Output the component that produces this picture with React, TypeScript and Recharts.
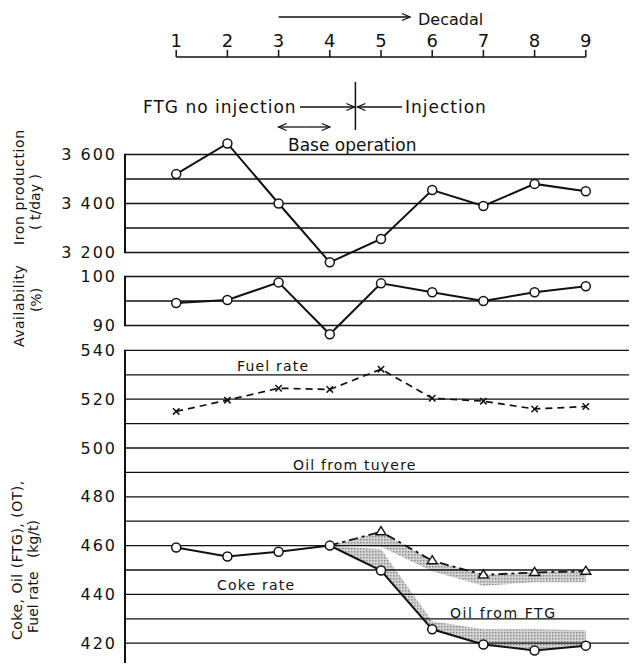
import { Area, ComposedChart, Line, LineChart, ReferenceLine, XAxis, YAxis } from 'recharts'

// decade index shared by every panel
const decades = [1, 2, 3, 4, 5, 6, 7, 8, 9]

// iron production, t/day
const ironProduction = [3520, 3645, 3400, 3160, 3255, 3455, 3390, 3480, 3450]
// furnace availability, %
const availability = [94.6, 95.2, 98.8, 88.2, 98.6, 96.8, 95.0, 96.8, 98.0]
// kg/t series
const fuelRate = [515, 519.6, 524.5, 524, 532.3, 520.4, 519.2, 516, 517]
const cokeRate = [459.2, 455.5, 457.5, 460, 449.8, 425.7, 419.5, 417, 419]
const cokePlusOilFtg = [null, null, null, 460, 458.5, 429, 425.7, 425.7, 425.3]
const totalWithTuyere = [null, null, null, 460, 465.7, 453.8, 448, 449, 449.5]
const tuyereBandFloor = [null, null, null, 460, 459.5, 449.5, 443.5, 445, 445]

// axis ticks and ruled lines
const ironTicks = [3200, 3400, 3600]
const ironRules = [3200, 3300, 3400, 3500, 3600]
const availTicks = [90, 100]
const availRules = [90, 95, 100]
const rateTicks = [420, 440, 460, 480, 500, 520, 540]
const rateRules = [410, 420, 430, 440, 450, 460, 470, 480, 490, 500, 510, 520, 530, 540]

type Row = {
  decade: number
  iron: number
  avail: number
  fuel: number
  coke: number
  total: number | null
  ftgBand: [number, number] | null
  tuyereBand: [number, number] | null
}

const rows: Row[] = decades.map((decade, i) => {
  const top = cokePlusOilFtg[i]
  const total = totalWithTuyere[i]
  const floor = tuyereBandFloor[i]
  return {
    decade,
    iron: ironProduction[i],
    avail: availability[i],
    fuel: fuelRate[i],
    coke: cokeRate[i],
    total,
    ftgBand: top == null ? null : [cokeRate[i], top],
    tuyereBand: total == null || floor == null ? null : [floor, total],
  }
})

const W = 637
const H = 671
const PLOT_LEFT = 125
const UNIT = (W - PLOT_LEFT) / 10
const decadeX = (d: number) => PLOT_LEFT + d * UNIT
const INK = '#111'
const FONT = '"DejaVu Sans", sans-serif'

// stacked panels: page offset, height and value domain of each
type PanelBox = { top: number; height: number; domain: [number, number]; frame: [number, number] }
const ironBox: PanelBox = { top: 130, height: 147, domain: [3100, 3700], frame: [3200, 3600] }
const availBox: PanelBox = { top: 252, height: 98, domain: [85, 105], frame: [90, 100] }
const rateBox: PanelBox = { top: 326, height: 366, domain: [400, 550], frame: [410, 540] }

const pageY = (b: PanelBox, v: number) =>
  b.top + ((b.domain[1] - v) / (b.domain[1] - b.domain[0])) * b.height

const fmtThousands = (v: number) => `${Math.floor(v / 1000)} ${String(v % 1000).padStart(3, '0')}`

type DotProps = { cx?: number; cy?: number; index?: number; payload?: Row }

function CrossDot({ cx, cy, index }: DotProps) {
  if (cx == null || cy == null) return <g key={`x-${index}`} />
  const s = 3.2
  return (
    <path
      key={`x-${index}`}
      d={`M${cx - s},${cy - s}L${cx + s},${cy + s}M${cx - s},${cy + s}L${cx + s},${cy - s}`}
      stroke={INK}
      strokeWidth={1.5}
    />
  )
}

function TriangleDot({ cx, cy, index, payload }: DotProps) {
  // no triangle where the line starts on the coke-rate point
  if (cx == null || cy == null || payload == null || payload.total == null || payload.total === payload.coke) {
    return <g key={`t-${index}`} />
  }
  const r = 5
  return (
    <path
      key={`t-${index}`}
      d={`M${cx},${cy - r}L${cx + r},${cy + r * 0.6}L${cx - r},${cy + r * 0.6}Z`}
      fill="#fff"
      stroke={INK}
      strokeWidth={1.4}
    />
  )
}

const circleDot = { r: 4.5, fill: '#fff', stroke: INK, strokeWidth: 1.5 }
const tickStyle = { fontSize: 16, fill: INK, letterSpacing: 2 }
const ruleProps = { stroke: INK, strokeWidth: 1.3 }

const boxStyle = (b: { top: number; height: number }) => ({
  position: 'absolute' as const,
  left: 0,
  top: b.top,
  width: W,
  height: b.height,
})

function Arrow({ x1, x2, y }: { x1: number; x2: number; y: number }) {
  const dir = x2 > x1 ? 1 : -1
  return (
    <g stroke={INK} strokeWidth={1.3} fill="none">
      <line x1={x1} y1={y} x2={x2} y2={y} />
      <path d={`M${x2 - dir * 8},${y - 3.5}L${x2},${y}L${x2 - dir * 8},${y + 3.5}`} />
    </g>
  )
}

export default function App() {
  return (
    <div style={{ position: 'relative', width: W, height: H, margin: -8, overflow: 'hidden', background: '#fff', fontFamily: FONT }}>
      {/* decadal scale */}
      <div style={boxStyle({ top: 0, height: 70 })}>
        <LineChart width={W} height={70} data={rows} margin={{ top: 0, right: W - decadeX(9), bottom: 0, left: decadeX(1) }}>
          <XAxis
            dataKey="decade"
            type="number"
            domain={[1, 9]}
            ticks={decades}
            interval={0}
            orientation="top"
            height={57}
            tickSize={7}
            tickMargin={3}
            stroke={INK}
            strokeWidth={1.5}
            tick={{ fontSize: 18, fill: INK }}
          />
          <YAxis hide />
        </LineChart>
      </div>

      {/* iron production */}
      <div style={boxStyle(ironBox)}>
        <LineChart width={W} height={ironBox.height} data={rows} margin={{ top: 0, right: 0, bottom: 0, left: 0 }}>
          <XAxis dataKey="decade" type="number" domain={[0, 10]} hide />
          <YAxis
            domain={ironBox.domain}
            ticks={ironTicks}
            interval={0}
            width={PLOT_LEFT}
            axisLine={false}
            tickLine={false}
            tickSize={0}
            tickMargin={8}
            tick={tickStyle}
            tickFormatter={fmtThousands}
          />
          {ironRules.map((v) => (
            <ReferenceLine key={v} y={v} {...ruleProps} />
          ))}
          <Line dataKey="iron" stroke={INK} strokeWidth={2} dot={circleDot} activeDot={false} isAnimationActive={false} />
        </LineChart>
      </div>

      {/* availability */}
      <div style={boxStyle(availBox)}>
        <LineChart width={W} height={availBox.height} data={rows} margin={{ top: 0, right: 0, bottom: 0, left: 0 }}>
          <XAxis dataKey="decade" type="number" domain={[0, 10]} hide />
          <YAxis
            domain={availBox.domain}
            ticks={availTicks}
            interval={0}
            width={PLOT_LEFT}
            axisLine={false}
            tickLine={false}
            tickSize={0}
            tickMargin={8}
            tick={tickStyle}
          />
          {availRules.map((v) => (
            <ReferenceLine key={v} y={v} {...ruleProps} />
          ))}
          <Line dataKey="avail" stroke={INK} strokeWidth={2} dot={circleDot} activeDot={false} isAnimationActive={false} />
        </LineChart>
      </div>

      {/* coke, oil and fuel rates */}
      <div style={boxStyle(rateBox)}>
        <ComposedChart width={W} height={rateBox.height} data={rows} margin={{ top: 0, right: 0, bottom: 0, left: 0 }}>
          <defs>
            <pattern id="stipple" width="3" height="3" patternUnits="userSpaceOnUse">
              <rect width="3" height="3" fill="#b8b8b8" />
              <rect width="1.5" height="1.5" fill="#3a3a3a" />
            </pattern>
          </defs>
          <XAxis dataKey="decade" type="number" domain={[0, 10]} hide />
          <YAxis
            domain={rateBox.domain}
            ticks={rateTicks}
            interval={0}
            width={PLOT_LEFT}
            axisLine={false}
            tickLine={false}
            tickSize={0}
            tickMargin={8}
            tick={tickStyle}
          />
          {rateRules.map((v) => (
            <ReferenceLine key={v} y={v} stroke={INK} strokeWidth={v === 410 ? 2 : 1.3} />
          ))}
          <Area dataKey="tuyereBand" stroke="none" fill="url(#stipple)" isAnimationActive={false} activeDot={false} />
          <Area dataKey="ftgBand" stroke="none" fill="url(#stipple)" isAnimationActive={false} activeDot={false} />
          <Line
            dataKey="total"
            stroke={INK}
            strokeWidth={1.8}
            strokeDasharray="9 4 3 4"
            dot={TriangleDot}
            activeDot={false}
            isAnimationActive={false}
          />
          <Line
            dataKey="fuel"
            stroke={INK}
            strokeWidth={1.7}
            strokeDasharray="7 5"
            dot={CrossDot}
            activeDot={false}
            isAnimationActive={false}
          />
          <Line dataKey="coke" stroke={INK} strokeWidth={2} dot={circleDot} activeDot={false} isAnimationActive={false} />
        </ComposedChart>
      </div>

      {/* panel frames, annotations and axis titles */}
      <svg width={W} height={H} style={{ position: 'absolute', left: 0, top: 0, pointerEvents: 'none' }} fontFamily={FONT} fill={INK}>
        {[ironBox, availBox, rateBox].map((b) => (
          <rect
            key={b.top}
            x={PLOT_LEFT - 1}
            width={2}
            y={pageY(b, b.frame[1]) - 0.7}
            height={pageY(b, b.frame[0]) - pageY(b, b.frame[1]) + 1.4}
            fill={INK}
          />
        ))}

        <Arrow x1={decadeX(3)} x2={410} y={17} />
        <text x={418} y={19} fontSize={16} dominantBaseline="central">Decadal</text>

        <line x1={decadeX(4.5)} y1={82} x2={decadeX(4.5)} y2={130} stroke={INK} strokeWidth={1.5} />
        <text x={143} y={107} fontSize={17} letterSpacing={1} dominantBaseline="central">FTG no injection</text>
        <Arrow x1={300} x2={decadeX(4.5) - 1} y={107} />
        <Arrow x1={402} x2={decadeX(4.5) + 2} y={107} />
        <text x={405} y={107} fontSize={17} letterSpacing={1} dominantBaseline="central">Injection</text>
        <Arrow x1={(decadeX(3) + decadeX(4)) / 2} x2={decadeX(4)} y={127} />
        <Arrow x1={(decadeX(3) + decadeX(4)) / 2} x2={decadeX(3)} y={127} />
        <text x={288} y={145} fontSize={17} dominantBaseline="central">Base operation</text>

        <text x={237} y={366} fontSize={14} letterSpacing={1.2} dominantBaseline="central">Fuel rate</text>
        <text x={293} y={465} fontSize={14} letterSpacing={1.2} dominantBaseline="central">Oil from tuyere</text>
        <text x={217} y={585} fontSize={14} letterSpacing={1.2} dominantBaseline="central">Coke rate</text>
        <text x={450} y={613} fontSize={14} letterSpacing={1.6} dominantBaseline="central">Oil from FTG</text>

        <g fontSize={14} dominantBaseline="central">
          <text transform="translate(19,245) rotate(-90)" letterSpacing={0.6}>Iron production</text>
          <text transform="translate(35,202) rotate(-90)" textAnchor="middle">( t/day )</text>
          <text transform="translate(19,347) rotate(-90)" letterSpacing={0.5}>Availability</text>
          <text transform="translate(36,300) rotate(-90)" textAnchor="middle">(%)</text>
          <text transform="translate(17,640) rotate(-90)" letterSpacing={0.5}>Coke, Oil (FTG), (OT),</text>
          <text transform="translate(33,633) rotate(-90)" style={{ whiteSpace: 'pre' }}>Fuel rate   (kg/t)</text>
        </g>
      </svg>
    </div>
  )
}
